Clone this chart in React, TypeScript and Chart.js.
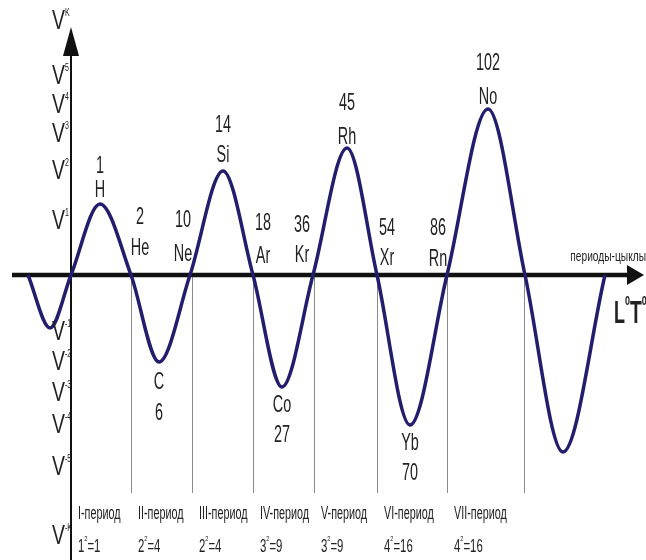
import { useEffect, useRef } from "react";
import { Chart, registerables } from "chart.js";

Chart.register(...registerables);

// ---- data (x: phase position along the period axis, y: amplitude) ----
const crossingX = [-43, 0, 60, 119, 182, 242, 306, 376, 454, 534];
const extremaX = [-21, 29, 88, 152, 211, 276, 339, 417, 492];
const extremaY = [-53, 71, -87, 104, -112, 127, -150, 166, -177];

// element labels at extrema
const extremaNumbers = ["", "1", "6", "14", "27", "45", "70", "102", ""];
const extremaSymbols = ["", "H", "C", "Si", "Co", "Rh", "Yb", "No", ""];

// element labels at axis crossings
const crossingNumbers = ["", "", "2", "10", "18", "36", "54", "86", "", ""];
const crossingSymbols = ["", "", "He", "Ne", "Ar", "Kr", "Xr", "Rn", "", ""];

// y-axis level labels
const yTickValues = [253, 198, 169, 140, 103, 53, -58, -88, -119, -151, -193, -262];
const yTickExps = ["K", "5", "4", "3", "2", "1", "-1", "-2", "-3", "-4", "-5", "-K"];

// periods
const periodStarts = [0, 60, 121, 182, 243, 306, 376, 453];
const periodNames = ["I-период", "II-период", "III-период", "IV-период", "V-период", "VI-период", "VII-период"];
const periodBase = ["1", "2", "2", "3", "3", "4", "4"];
const periodResult = ["=1", "=4", "=4", "=9", "=9", "=16", "=16"];

// ---- layout (pixel offsets for annotations) ----
const extremaSymDy = [0, -14, 20, -16, 18, -11, 18, -12, 0];
const extremaNumDy = [0, -38, 51, -46, 48, -45, 48, -46, 0];
const crossingDx = [0, 0, 9, -7, 10, -11, 10, -9, 0, 0];
const crossingNumY = [0, 0, 58, 55, 52, 50, 47, 47, 0, 0];
const crossingSymY = [0, 0, 27, 21, 19, 20, 17, 16, 0, 0];

const FONT = '"Liberation Sans", Arial, sans-serif';
const TEXT = "#222";
const CURVE = "#221d6c";

function cond(
  ctx: CanvasRenderingContext2D,
  text: string,
  x: number,
  y: number,
  size: number,
  sx: number,
  align: CanvasTextAlign = "center",
  weight = "normal"
) {
  ctx.save();
  ctx.font = `${weight} ${size}px ${FONT}`;
  ctx.textBaseline = "middle";
  ctx.textAlign = align;
  ctx.fillStyle = TEXT;
  ctx.translate(x, y);
  ctx.scale(sx, 1);
  ctx.fillText(text, 0, 0);
  const w = ctx.measureText(text).width * sx;
  ctx.restore();
  return w;
}

const diagramPlugin = {
  id: "diagram",
  beforeDatasetsDraw(chart: any) {
    const ctx: CanvasRenderingContext2D = chart.ctx;
    const xs = chart.scales.x;
    const ys = chart.scales.y;
    const x0 = xs.getPixelForValue(0);
    const y0 = ys.getPixelForValue(0);
    ctx.save();
    // period separators
    ctx.strokeStyle = "#8a8a8a";
    ctx.lineWidth = 1;
    for (let i = 1; i < periodStarts.length; i++) {
      const px = Math.round(xs.getPixelForValue(periodStarts[i])) + 0.5;
      ctx.beginPath();
      ctx.moveTo(px, y0);
      ctx.lineTo(px, ys.getPixelForValue(-218));
      ctx.stroke();
    }
    // y axis
    ctx.strokeStyle = "#111";
    ctx.fillStyle = "#111";
    ctx.lineWidth = 2;
    ctx.beginPath();
    ctx.moveTo(x0, chart.height);
    ctx.lineTo(x0, ys.getPixelForValue(222));
    ctx.stroke();
    ctx.beginPath();
    ctx.moveTo(x0, ys.getPixelForValue(248));
    ctx.lineTo(x0 - 8, ys.getPixelForValue(219));
    ctx.lineTo(x0 + 8, ys.getPixelForValue(219));
    ctx.closePath();
    ctx.fill();
    // x axis
    ctx.lineWidth = 4.5;
    ctx.beginPath();
    ctx.moveTo(xs.getPixelForValue(-59), y0);
    ctx.lineTo(xs.getPixelForValue(560), y0);
    ctx.stroke();
    ctx.beginPath();
    ctx.moveTo(xs.getPixelForValue(573), y0);
    ctx.lineTo(xs.getPixelForValue(556), y0 - 10);
    ctx.lineTo(xs.getPixelForValue(556), y0 + 10);
    ctx.closePath();
    ctx.fill();
    ctx.restore();
  },
  afterDatasetsDraw(chart: any) {
    const ctx: CanvasRenderingContext2D = chart.ctx;
    const xs = chart.scales.x;
    const ys = chart.scales.y;
    const x0 = xs.getPixelForValue(0);
    const y0 = ys.getPixelForValue(0);

    // y level labels
    yTickValues.forEach((v, i) => {
      const py = ys.getPixelForValue(v);
      cond(ctx, "V", x0 - 6, py, 27, 0.72, "right");
      cond(ctx, yTickExps[i], x0 - 6, py - 9, 10, 0.7, "left");
    });

    // extrema labels
    extremaX.forEach((xv, i) => {
      if (!extremaSymbols[i]) return;
      const px = xs.getPixelForValue(xv);
      const py = ys.getPixelForValue(extremaY[i]);
      cond(ctx, extremaSymbols[i], px, py + extremaSymDy[i], 24, 0.6);
      cond(ctx, extremaNumbers[i], px, py + extremaNumDy[i], 24, 0.6);
    });

    // crossing labels
    crossingX.forEach((xv, i) => {
      if (!crossingSymbols[i]) return;
      const px = xs.getPixelForValue(xv) + crossingDx[i];
      cond(ctx, crossingNumbers[i], px, ys.getPixelForValue(crossingNumY[i]), 24, 0.6);
      cond(ctx, crossingSymbols[i], px, ys.getPixelForValue(crossingSymY[i]), 24, 0.6);
    });

    // period labels
    periodNames.forEach((name, i) => {
      const px = xs.getPixelForValue(periodStarts[i]) + 7;
      cond(ctx, name, px, ys.getPixelForValue(-239), 18, 0.6, "left");
      const fy = ys.getPixelForValue(-272);
      const w1 = cond(ctx, periodBase[i], px, fy, 19, 0.6, "left");
      const w2 = cond(ctx, "2", px + w1, fy - 8, 8, 0.7, "left");
      cond(ctx, periodResult[i], px + w1 + w2, fy, 19, 0.6, "left");
    });

    // axis captions
    cond(ctx, "периоды-цыклы", chart.width, y0 - 18, 15, 0.68, "right");
    const ly = y0 + 39;
    const lx = xs.getPixelForValue(543);
    const wl = cond(ctx, "L", lx, ly, 31, 0.58, "left", "bold");
    const ws = cond(ctx, "0", lx + wl, ly - 12, 12, 0.75, "left", "bold");
    const wt = cond(ctx, "T", lx + wl + ws, ly, 31, 0.62, "left", "bold");
    cond(ctx, "0", lx + wl + ws + wt, ly - 12, 12, 0.75, "left", "bold");
  },
};

export default function App() {
  const ref = useRef<HTMLCanvasElement | null>(null);
  useEffect(() => {
    if (!ref.current) return;
    const points: { x: number; y: number }[] = [];
    crossingX.forEach((cx, i) => {
      points.push({ x: cx, y: 0 });
      if (i < extremaX.length) points.push({ x: extremaX[i], y: extremaY[i] });
    });
    const chart = new Chart(ref.current, {
      type: "line",
      data: {
        datasets: [
          {
            data: points,
            borderColor: CURVE,
            borderWidth: 3.5,
            pointRadius: 0,
            cubicInterpolationMode: "monotone",
            fill: false,
          },
        ],
      },
      options: {
        animation: false,
        responsive: false,
        events: [],
        layout: { padding: 0 },
        scales: {
          x: { type: "linear", min: -71, max: 575, display: false },
          y: { type: "linear", min: -285, max: 275, display: false },
        },
        plugins: { legend: { display: false }, tooltip: { enabled: false } },
      },
      plugins: [diagramPlugin],
    } as any);
    return () => chart.destroy();
  }, []);
  return (
    <div style={{ position: "absolute", left: 0, top: 0, width: 646, height: 560, background: "#fff" }}>
      <canvas ref={ref} width={646} height={560} style={{ display: "block" }} />
    </div>
  );
}
